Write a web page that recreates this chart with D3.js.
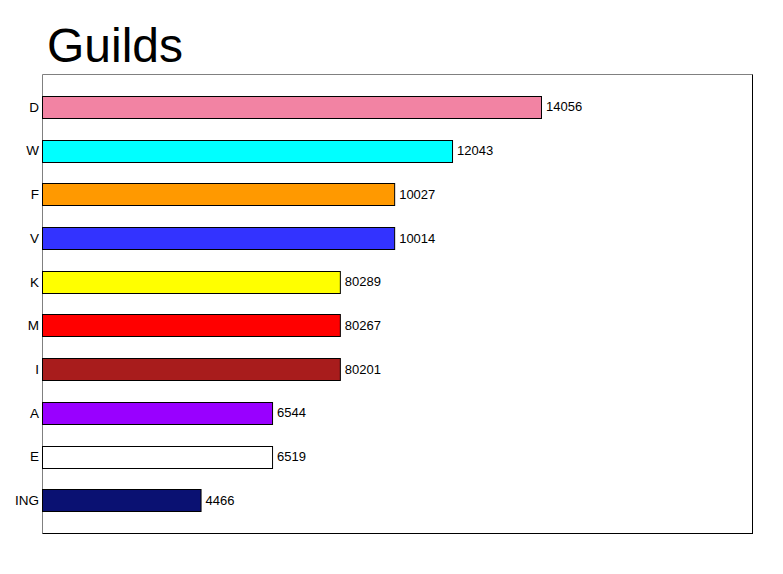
<!DOCTYPE html>
<html>
<head>
<meta charset="utf-8">
<script src="https://cdn.jsdelivr.net/npm/d3@7"></script>
<style>
  body { margin: 0; background: #fff; }
  text { font-family: "Liberation Sans", Arial, sans-serif; }
</style>
</head>
<body>
<div id="chart"></div>
<script>
// guild names, top to bottom
var guilds = ["D", "W", "F", "V", "K", "M", "I", "A", "E", "ING"];
// bar lengths as drawn
var barValues = [14056, 11550, 9920, 9920, 8390, 8390, 8390, 6480, 6480, 4466];
// the numbers printed next to each bar
var barLabels = ["14056", "12043", "10027", "10014", "80289", "80267", "80201", "6544", "6519", "4466"];
var barColors = ["#f283a3", "#00ffff", "#ff9900", "#3333ff", "#ffff00", "#ff0000", "#a81c1c", "#9900ff", "#ffffff", "#0a1172"];

var width = 783, height = 574;
var box = {left: 42, top: 74, right: 752, bottom: 533};

var svg = d3.select("#chart")
    .append("svg")
    .attr("width", width)
    .attr("height", height);

var x = d3.scaleLinear()
    .domain([0, 20000])
    .range([box.left, box.right]);

var y = d3.scaleBand()
    .domain(guilds)
    .range([box.top, box.bottom])
    .paddingInner(0.5)
    .paddingOuter(0.5);

svg.append("text")
    .attr("x", 47)
    .attr("y", 62)
    .attr("font-size", 48)
    .text("Guilds");

// frame: grey on top/left, black on right/bottom
svg.append("line")
    .attr("x1", box.left + 0.5).attr("x2", box.right + 0.5)
    .attr("y1", box.top + 0.5).attr("y2", box.top + 0.5)
    .attr("stroke", "#808080");
svg.append("line")
    .attr("x1", box.left + 0.5).attr("x2", box.left + 0.5)
    .attr("y1", box.top + 0.5).attr("y2", box.bottom + 0.5)
    .attr("stroke", "#808080");
svg.append("line")
    .attr("x1", box.right + 0.5).attr("x2", box.right + 0.5)
    .attr("y1", box.top + 0.5).attr("y2", box.bottom + 0.5)
    .attr("stroke", "#000");
svg.append("line")
    .attr("x1", box.left + 0.5).attr("x2", box.right + 1)
    .attr("y1", box.bottom + 0.5).attr("y2", box.bottom + 0.5)
    .attr("stroke", "#000");

var rows = svg.selectAll(".row")
    .data(guilds)
    .enter()
    .append("g")
    .attr("class", "row");

rows.append("rect")
    .attr("x", x(0) + 0.5)
    .attr("y", function (d) { return Math.round(y(d)) + 0.5; })
    .attr("width", function (d, i) { return x(barValues[i]) - x(0); })
    .attr("height", Math.round(y.bandwidth()))
    .attr("fill", function (d, i) { return barColors[i]; })
    .attr("stroke", "#000");

rows.append("text")
    .attr("x", function (d, i) { return x(barValues[i]) + 5; })
    .attr("y", function (d) { return y(d) + y.bandwidth() / 2; })
    .attr("dy", "0.36em")
    .attr("font-size", 13)
    .text(function (d, i) { return barLabels[i]; });

rows.append("text")
    .attr("x", box.left - 3)
    .attr("y", function (d) { return y(d) + y.bandwidth() / 2; })
    .attr("dy", "0.36em")
    .attr("text-anchor", "end")
    .attr("font-size", 13.5)
    .text(function (d) { return d; });
</script>
</body>
</html>
